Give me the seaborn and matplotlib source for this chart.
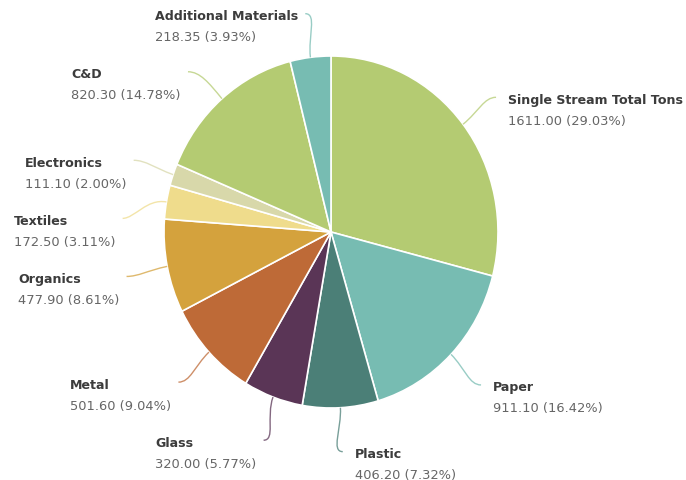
import numpy as np
import matplotlib.pyplot as plt
import seaborn as sns
from matplotlib.path import Path
from matplotlib.patches import PathPatch

sns.set_theme(style='white')
plt.rcParams['font.family'] = ['DejaVu Sans']

# %% data (clockwise from 12 o'clock)
categories = ['Single Stream Total Tons', 'Paper', 'Plastic', 'Glass', 'Metal',
              'Organics', 'Textiles', 'Electronics', 'C&D', 'Additional Materials']
tons = [1611.00, 911.10, 406.20, 320.00, 501.60, 477.90, 172.50, 111.10, 820.30, 218.35]
colors = ['#b4cb72', '#77bcb2', '#4b7f77', '#5a3556', '#be6a37',
          '#d4a23d', '#efdc8c', '#d8d8aa', '#b4cb72', '#77bcb2']

# %% layout in pixels -> data units (slightly elliptical pie like the reference)
W, H = 686, 481
cx, cy = 331, 233
sx, sy = 167, 176

fig = plt.figure(figsize=(W / 100, H / 100), dpi=100)
ax = fig.add_axes([0, 0, 1, 1])
ax.pie(tons, colors=sns.color_palette(colors), startangle=90, counterclock=False,
       radius=1, wedgeprops=dict(edgecolor='white', linewidth=1.2))
ax.set_aspect('auto')
ax.set_xlim(-cx / sx, (W - cx) / sx)
ax.set_ylim(-(H - cy) / sy, cy / sy)
ax.axis('off')

vals = np.array(tons)
pct = vals / vals.sum() * 100
cum = np.cumsum(vals) / vals.sum()
mid = cum - vals / vals.sum() / 2
ang = np.deg2rad(90 - mid * 360)

R = 1.25
gap = 0.33
ex = R * np.cos(ang)
ey = R * np.sin(ang)

# push labels apart on each side (top to bottom)
for side in [1, -1]:
    idx = [i for i in range(len(vals)) if np.sign(ex[i]) == side]
    idx = sorted(idx, key=lambda i: -ey[i])
    for a, b in zip(idx[:-1], idx[1:]):
        if ey[a] - ey[b] < gap:
            ey[b] = ey[a] - gap
            ex[b] = side * np.sqrt(max(R**2 - ey[b]**2, 0))

fig.canvas.draw()
renderer = fig.canvas.get_renderer()

for i, name in enumerate(categories):
    px, py = np.cos(ang[i]), np.sin(ang[i])
    side = 1 if ex[i] > 0 else -1
    # soft connector from the slice edge to the label
    p0 = (px, py)
    p1 = (1.12 * px, 1.12 * py)
    p2 = (ex[i] - side * 12 / sx, ey[i])
    p3 = (ex[i], ey[i])
    path = Path([p0, p1, p2, p3], [Path.MOVETO, Path.CURVE4, Path.CURVE4, Path.CURVE4])
    ax.add_patch(PathPatch(path, fc='none', ec=colors[i], lw=1.0, alpha=0.75))

    name_y = ey[i] - 2 / sy
    val_y = name_y - 21 / sy
    val_str = f'{tons[i]:.2f} ({pct[i]:.2f}%)'
    t1 = ax.text(0, name_y, name, fontsize=9.1, fontweight='bold', color='#3c3c3c',
                 ha='left', va='center')
    t2 = ax.text(0, val_y, val_str, fontsize=9.4, color='#666666', ha='left', va='center')
    if side > 0:
        left = ex[i] + 12 / sx
    else:
        w = max(t1.get_window_extent(renderer).width, t2.get_window_extent(renderer).width)
        left = ex[i] - 7 / sx - w / sx
    t1.set_x(left)
    t2.set_x(left)

fig.savefig('out.png', dpi=100, facecolor='white')
